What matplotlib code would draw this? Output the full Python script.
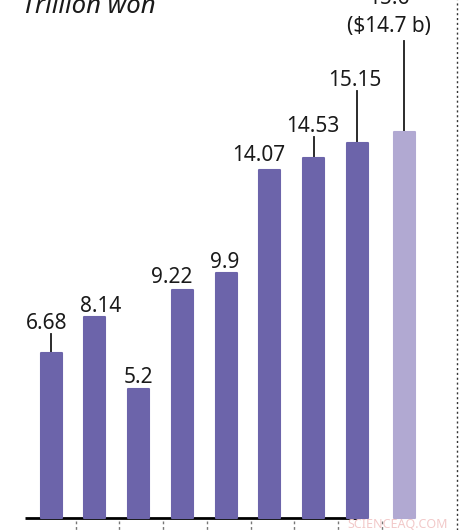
import numpy as np
import matplotlib.pyplot as plt
from matplotlib.lines import Line2D

# values, trillion won
values = [6.68, 8.14, 5.2, 9.22, 9.9, 14.07, 14.53, 15.15, 15.6]
labels = ["6.68", "8.14", "5.2", "9.22", "9.9", "14.07", "14.53", "15.15", "15.6"]
forecast = [False] * 8 + [True]
usd_note = "($14.7 b)"
title = "Trillion won"

# label layout: (dx px, baseline gap px above bar top, leader line?)
label_pos = [(-4, 24, True), (6, 5, False), (0, 6, False), (-10, 7, False),
             (-1, 5, False), (-11, 9, False), (-1, 26, True), (-2, 57, True),
             (-15, 100, True)]

DARK = "#6c64aa"
LIGHT = "#b1a9d2"

plt.rcParams['font.family'] = ['Noto Sans', 'DejaVu Sans']

fig = plt.figure(figsize=(4.61, 5.30), dpi=100)
ax = fig.add_axes([0, 0, 1, 1])
px_x = 43.75          # pixels per bar step
px_y = 24.75          # pixels per trillion won
ax.set_xlim(-51 / px_x, (461 - 51) / px_x)
ax.set_ylim(-12 / px_y, 518 / px_y)
ax.axis('off')

x = np.arange(len(values)).astype(float)
x[-1] += 0.07
colors = [LIGHT if f else DARK for f in forecast]

# baseline
ax.plot([-26 / px_x, 7], [0, 0], color='black', lw=2, zorder=1, solid_capstyle='butt')
# small dashed ticks below the baseline
ax.vlines(np.arange(8) + 0.56, -0.12, -0.5, colors='#777777', lw=1,
          linestyles=(0, (2, 2)), zorder=1)

ax.bar(x, values, width=0.48, color=colors, edgecolor=colors, lw=1.5,
       joinstyle='round', zorder=2)

for xi, v, lab, (dx, gap, lead), f in zip(x, values, labels, label_pos, forecast):
    if f:
        ax.annotate(usd_note, (xi, v), xytext=(dx, gap), textcoords='offset pixels',
                    ha='center', va='baseline', fontsize=15, color='#1a1a1a')
        ax.annotate(lab, (xi, v), xytext=(dx, gap + 28), textcoords='offset pixels',
                    ha='center', va='baseline', fontsize=15, fontweight='bold',
                    color='#1a1a1a')
        line_top = gap - 9
    else:
        ax.annotate(lab, (xi, v), xytext=(dx, gap), textcoords='offset pixels',
                    ha='center', va='baseline', fontsize=15, color='#1a1a1a')
        line_top = gap - 5
    if lead:
        ax.plot([xi, xi], [v, v + line_top / px_y], color='#1a1a1a', lw=1.3, zorder=1)

fig.text(22 / 461, 1 - 13 / 530, title, ha='left', va='baseline', fontsize=18.5,
         style='italic', color='#1a1a1a')

# dotted right border
fig.add_artist(Line2D([457 / 461, 457 / 461], [0, 1], color='#333333', lw=1,
                      linestyle=(0, (1.5, 2))))
# faint watermark
fig.text(398 / 461, 1 - 528 / 530, "SCIENCEAQ.COM", ha='center', va='baseline',
         fontsize=9, color='#f2c9c9')

fig.savefig("out.png", dpi=100)
